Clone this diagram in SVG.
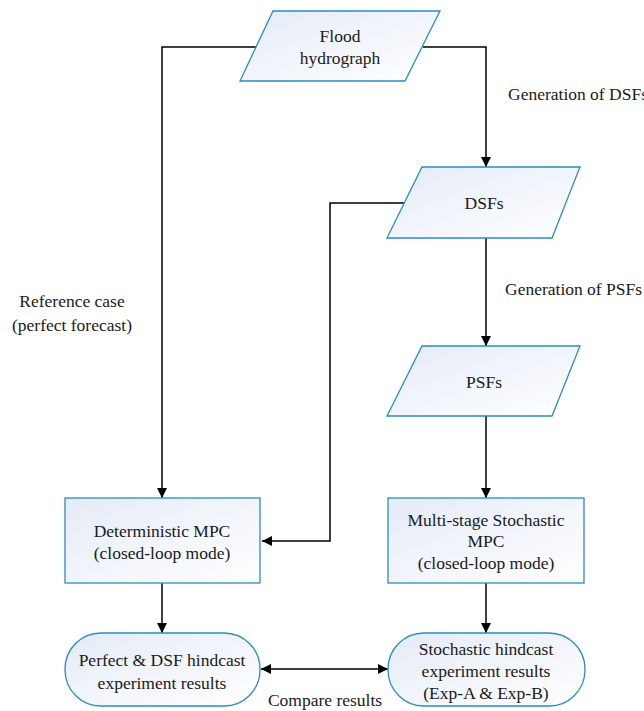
<svg xmlns="http://www.w3.org/2000/svg" width="644" height="711" viewBox="0 0 644 711" font-family="'Liberation Serif', 'Times New Roman', serif" font-size="17.5">
<defs>
<linearGradient id="g" x1="0" y1="0" x2="1" y2="1">
<stop offset="0" stop-color="#e4ebf7"/>
<stop offset="1" stop-color="#ffffff"/>
</linearGradient>
<marker id="ah" viewBox="0 0 10 10" refX="10" refY="5" markerWidth="10" markerHeight="10" markerUnits="userSpaceOnUse" orient="auto-start-reverse">
<path d="M0,0 L10,5 L0,10 z" fill="#000"/>
</marker>
<style>
.s{fill:url(#g);stroke:#2b8cc4;stroke-width:1.3}
.t{fill:#1a1a1a;text-anchor:middle}
.l{fill:#1a1a1a}
.c{fill:none;stroke:#000;stroke-width:1.5}
</style>
</defs>
<rect width="644" height="711" fill="#fff"/>
<g id="connectors">
<polyline class="c" points="257,47 162,47 162,498" marker-end="url(#ah)"/>
<polyline class="c" points="423,47 486,47 486,167" marker-end="url(#ah)"/>
<polyline class="c" points="404,203 330,203 330,541 262,541" marker-end="url(#ah)"/>
<line class="c" x1="486" y1="238" x2="486" y2="346" marker-end="url(#ah)"/>
<line class="c" x1="486" y1="416" x2="486" y2="498" marker-end="url(#ah)"/>
<line class="c" x1="162" y1="583" x2="162" y2="633" marker-end="url(#ah)"/>
<line class="c" x1="486" y1="583" x2="486" y2="633" marker-end="url(#ah)"/>
<line class="c" x1="261" y1="669" x2="388" y2="669" marker-start="url(#ah)" marker-end="url(#ah)"/>
</g>
<g id="flood">
<polygon class="s" points="273,11 440,11 405,81 240,81"/>
<text class="t" x="340" y="42">Flood</text>
<text class="t" x="340" y="64">hydrograph</text>
</g>
<g id="dsfs">
<polygon class="s" points="422,167 580,167 552,238 387,238"/>
<text class="t" x="484" y="209">DSFs</text>
</g>
<g id="psfs">
<polygon class="s" points="422,346 580,346 552,416 387,416"/>
<text class="t" x="484" y="388">PSFs</text>
</g>
<g id="det-mpc">
<rect class="s" x="65" y="498" width="195" height="85"/>
<text class="t" x="162" y="537">Deterministic MPC</text>
<text class="t" x="162" y="559">(closed-loop mode)</text>
</g>
<g id="stoch-mpc">
<rect class="s" x="388" y="498" width="196" height="85"/>
<text class="t" x="486" y="526">Multi-stage Stochastic</text>
<text class="t" x="486" y="547">MPC</text>
<text class="t" x="486" y="569">(closed-loop mode)</text>
</g>
<g id="det-results">
<rect class="s" x="65" y="633" width="195" height="73" rx="36" ry="36"/>
<text class="t" x="162" y="666">Perfect &amp; DSF hindcast</text>
<text class="t" x="162" y="689">experiment results</text>
</g>
<g id="stoch-results">
<rect class="s" x="388" y="633" width="197" height="73" rx="36" ry="36"/>
<text class="t" x="486" y="655">Stochastic hindcast</text>
<text class="t" x="486" y="677">experiment results</text>
<text class="t" x="486" y="699">(Exp-A &amp; Exp-B)</text>
</g>
<g id="labels">
<text class="l" x="508" y="100">Generation of DSFs</text>
<text class="l" x="505" y="295">Generation of PSFs</text>
<text class="t" x="72" y="307">Reference case</text>
<text class="t" x="72" y="331">(perfect forecast)</text>
<text class="t" x="325" y="706">Compare results</text>
</g>
</svg>
